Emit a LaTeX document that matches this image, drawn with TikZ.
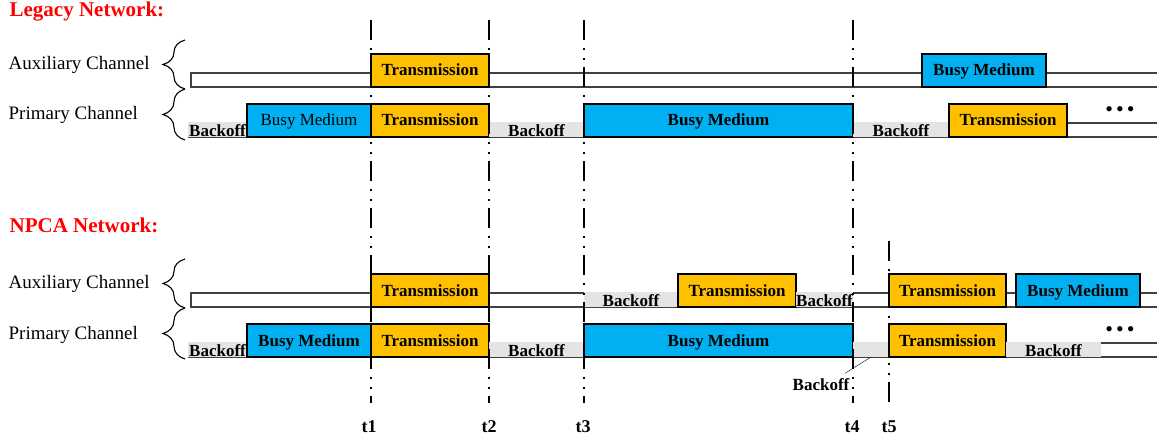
\documentclass[tikz,border=0pt]{standalone}
\usepackage{fontspec}
\setmainfont{Liberation Serif}
\usetikzlibrary{positioning, decorations.pathreplacing}
\definecolor{txcol}{HTML}{FFC000}
\definecolor{busycol}{HTML}{00B0F0}
\definecolor{boffcol}{HTML}{E4E4E4}

\begin{document}
\begin{tikzpicture}[x = 1pt, y = -1pt, semithick,
    box/.style = {draw, line width = 1.1pt, anchor = south west, inner sep = 0pt, outer sep = 0pt, minimum height = 33pt, text height = 11pt, text depth = 0pt, font = \fontsize{17}{18}\selectfont\bfseries},
    tx/.style = {box, fill = txcol, minimum width = 118pt},
    busy/.style = {box, fill = busycol, minimum width = 124pt},
    boff/.style = {fill = boffcol, anchor = south west, inner sep = 0pt, outer sep = 0pt, minimum height = 15pt, text height = 14.5pt, text depth = 0pt, font = \fontsize{17}{18}\selectfont\bfseries},
    bar/.style = {draw = black!75, line width = 1.1pt},
    chan/.style = {anchor = west, font = \fontsize{19}{22}\selectfont},
    title/.style = {anchor = west, text = red, font = \fontsize{21}{24}\selectfont\bfseries},
    chbrace/.style = {decorate, decoration = {brace, amplitude = 22pt}, line width = 1.1pt},
    tline/.style = {line width = 2pt, dash pattern = on 20pt off 8pt on 2pt off 8pt on 2pt off 7pt},
    tlab/.style = {font = \fontsize{18}{20}\selectfont\bfseries},
    note/.style = {font = \fontsize{17}{18}\selectfont\bfseries},
    dots/.style = {font = \fontsize{22}{24}\selectfont}]
    \useasboundingbox (0,0) rectangle (1157,441);

    \node[title]	(lt)	at (6,12)		{Legacy Network:};
    \node[title]	(nt)	at (6,225)		{NPCA Network:};
    \node[chan]		(lac)	at (5,65)		{Auxiliary Channel};
    \node[chan]		(lpc)	at (5,115)		{Primary Channel};
    \node[chan]		(nac)	at (5,284)		{Auxiliary Channel};
    \node[chan]		(npc)	at (5,335)		{Primary Channel};

    \draw[chbrace]	(185,89) -- (185,40);
    \draw[chbrace]	(185,140) -- (185,89);
    \draw[chbrace]	(185,308) -- (185,259);
    \draw[chbrace]	(185,359) -- (185,308);

    \draw[bar]	(1160,73) -- (191,73) -- (191,87) -- (1160,87);
    \draw[bar]	(1160,123) -- (188,123);
    \draw[bar]	(188,137) -- (1160,137);
    \draw[bar]	(1160,293) -- (191,293) -- (191,307) -- (1160,307);
    \draw[bar]	(1160,343) -- (188,343);
    \draw[bar]	(188,357) -- (1160,357);

    \node[tx]							(la1)	at (371,87)			{Transmission};
    \node[busy]							(la2)	at (922,87)			{Busy Medium};
    \node[boff, minimum width = 59]		(lp1)	at (188,137)		{Backoff};
    \node[busy, font = \fontsize{17}{18}\selectfont]	(lp2)	at (lp1.south east)	{Busy Medium};
    \node[tx]							(lp3)	at (lp2.south east)	{Transmission};
    \node[boff, minimum width = 95]		(lp4)	at (lp3.south east)	{Backoff};
    \node[busy, minimum width = 269]	(lp5)	at (lp4.south east)	{Busy Medium};
    \node[boff, minimum width = 96]		(lp6)	at (lp5.south east)	{Backoff};
    \node[tx]							(lp7)	at (lp6.south east)	{Transmission};
    \node[dots]							(ld)	at (1120,112)		{\textbullet\hspace{3pt}\textbullet\hspace{3pt}\textbullet};

    \node[tx]							(na1)	at (371,307)		{Transmission};
    \node[boff, minimum width = 94]		(na2)	at (584,307)		{Backoff};
    \node[tx]							(na3)	at (na2.south east)	{Transmission};
    \node[boff, minimum width = 57]		(na4)	at (na3.south east)	{Backoff};
    \node[tx, minimum width = 117]		(na5)	at (889,307)		{Transmission};
    \node[busy]							(na6)	at (1016,307)		{Busy Medium};
    \node[boff, minimum width = 59]		(np1)	at (188,357)		{Backoff};
    \node[busy]							(np2)	at (np1.south east)	{Busy Medium};
    \node[tx]							(np3)	at (np2.south east)	{Transmission};
    \node[boff, minimum width = 95]		(np4)	at (np3.south east)	{Backoff};
    \node[busy, minimum width = 269]	(np5)	at (np4.south east)	{Busy Medium};
    \node[boff, minimum width = 36]		(np6)	at (np5.south east)	{};
    \node[tx, minimum width = 117]		(np7)	at (np6.south east)	{Transmission};
    \node[boff, minimum width = 95]		(np8)	at (np7.south east)	{Backoff};
    \node[dots]							(nd)	at (1120,332)		{\textbullet\hspace{3pt}\textbullet\hspace{3pt}\textbullet};

    \node[note, anchor = east]			(nbn)	at (853,385)		{Backoff};
    \draw[thin]	(np6.south) -- ([xshift = -8pt, yshift = 2pt]nbn.north east);

    \coordinate	(c1)	at (371,20);
    \coordinate	(c2)	at (489,20);
    \coordinate	(c3)	at (584,20);
    \coordinate	(c4)	at (853,20);
    \coordinate	(c5)	at (889,241);
    \node[tlab]	(t1)	at (369,427)	{t1};
    \node[tlab]	(t2)	at (489,427)	{t2};
    \node[tlab]	(t3)	at (583,427)	{t3};
    \node[tlab]	(t4)	at (852,427)	{t4};
    \node[tlab]	(t5)	at (889,427)	{t5};
    \foreach \i in {1,...,5}
        \draw[tline, shorten > = 14pt]	(c\i) -- (c\i |- t\i.north);
\end{tikzpicture}
\end{document}
